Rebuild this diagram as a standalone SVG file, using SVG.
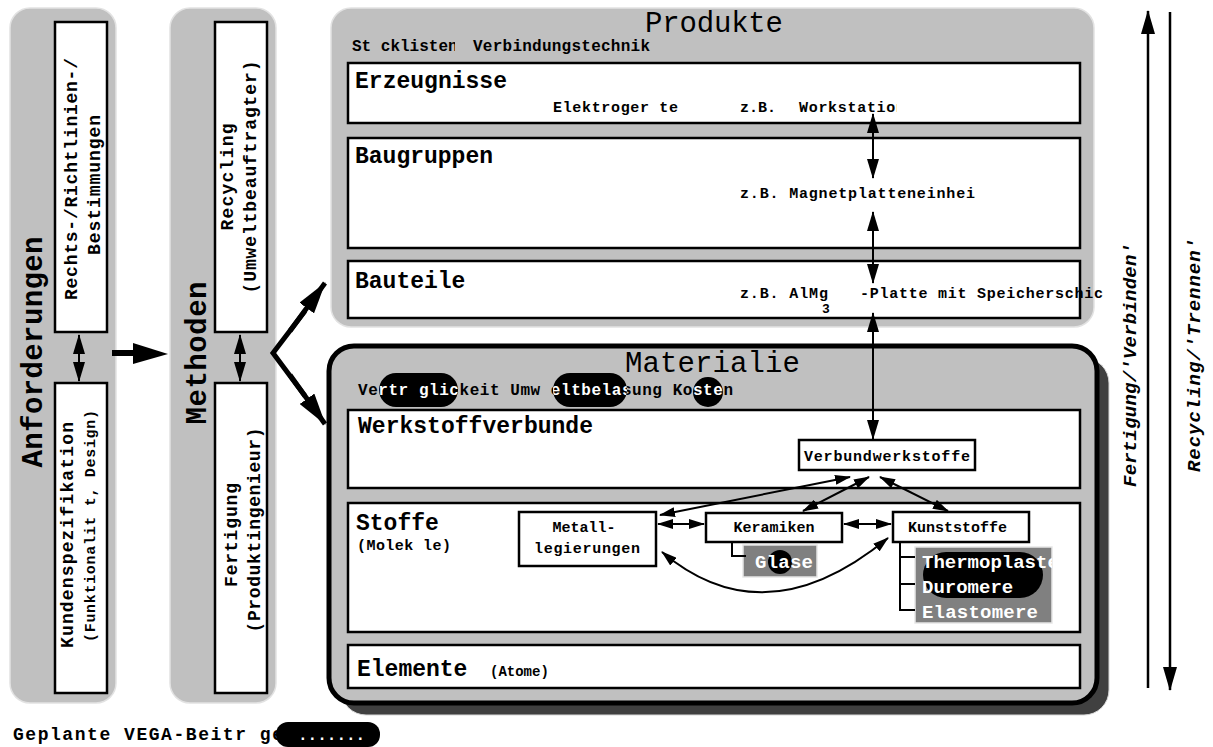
<svg xmlns="http://www.w3.org/2000/svg" width="1213" height="747" viewBox="0 0 1213 747">
<style>
.panel{fill:#c0c0c0;stroke:#e2e2e2;stroke-width:1.5}
.box{fill:#fff;stroke:#000;stroke-width:2.5}
.sbox{fill:#fff;stroke:#000;stroke-width:2.5}
.t{font-family:"Liberation Mono","Courier New",monospace;font-weight:bold;fill:#000}
.r{font-family:"Liberation Mono","Courier New",monospace;font-weight:normal;fill:#000}
.w{fill:#fff}
.it{font-style:italic}
.ln{fill:none;stroke:#000;stroke-width:2}
.thick{fill:none;stroke:#000;stroke-width:6}
.fork{fill:none;stroke:#000;stroke-width:5;stroke-linejoin:miter}
</style>
<defs>
<marker id="ah" markerUnits="userSpaceOnUse" markerWidth="20" markerHeight="12" refX="19" refY="6" orient="auto-start-reverse"><path d="M0,0 L20,6 L0,12 z" fill="#000"/></marker>
<marker id="as" markerUnits="userSpaceOnUse" markerWidth="16" markerHeight="10" refX="15" refY="5" orient="auto-start-reverse"><path d="M0,0 L16,5 L0,10 z" fill="#000"/></marker>
<marker id="af" markerUnits="userSpaceOnUse" markerWidth="32" markerHeight="18" refX="31" refY="9" orient="auto"><path d="M0,0 L32,9 L0,18 z" fill="#000"/></marker>
<marker id="ab" markerUnits="userSpaceOnUse" markerWidth="24" markerHeight="14" refX="23" refY="7" orient="auto-start-reverse"><path d="M0,0 L24,7 L0,14 z" fill="#000"/></marker>
<clipPath id="cSt"><rect x="340" y="30" width="115" height="30"/></clipPath>
<clipPath id="cWs"><rect x="790" y="95" width="107" height="25"/></clipPath>
<clipPath id="cKu"><rect x="893" y="512" width="117" height="30"/></clipPath>
<clipPath id="cTh"><rect x="915" y="547" width="137" height="76"/></clipPath>
<clipPath id="cPill"><rect x="379" y="373" width="79" height="34" rx="17"/><rect x="553" y="373" width="74" height="34" rx="17"/><circle cx="708" cy="392" r="15"/></clipPath>
</defs>

<g id="anforderungen">
<rect class="panel" x="10" y="8" width="106" height="695" rx="20"/>
<text class="t" font-size="29" text-anchor="middle" textLength="231" transform="translate(42,352) rotate(-90)">Anforderungen</text>
</g>
<g id="rechts">
<rect class="box" x="55" y="22" width="52" height="310"/>
<text class="t" font-size="18" text-anchor="middle" textLength="242" transform="translate(77,179) rotate(-90)">Rechts-/Richtlinien-/</text>
<text class="t" font-size="18" text-anchor="middle" textLength="140" transform="translate(100,185) rotate(-90)">Bestimmungen</text>
</g>
<g id="kunden">
<rect class="box" x="55" y="383" width="52" height="310"/>
<text class="t" font-size="18" text-anchor="middle" textLength="226" transform="translate(73,535) rotate(-90)">Kundenspezifikation</text>
<text class="t" font-size="15" text-anchor="middle" textLength="232" transform="translate(95,526) rotate(-90)">(Funktionalit t, Design)</text>
</g>
<g id="methoden">
<rect class="panel" x="170" y="8" width="106" height="695" rx="20"/>
<text class="t" font-size="29" text-anchor="middle" textLength="143" transform="translate(206,353) rotate(-90)">Methoden</text>
</g>
<g id="recycling">
<rect class="box" x="215" y="22" width="52" height="310"/>
<text class="t" font-size="18" text-anchor="middle" textLength="107" transform="translate(233,177) rotate(-90)">Recycling</text>
<text class="t" font-size="18" text-anchor="middle" textLength="233" transform="translate(256,177) rotate(-90)">(Umweltbeauftragter)</text>
</g>
<g id="fertigung">
<rect class="box" x="215" y="383" width="52" height="310"/>
<text class="t" font-size="18" text-anchor="middle" textLength="104" transform="translate(237,535) rotate(-90)">Fertigung</text>
<text class="t" font-size="18" text-anchor="middle" textLength="205" transform="translate(260,530) rotate(-90)">(Produktingenieur)</text>
</g>

<g id="produkte">
<rect class="panel" x="331" y="8" width="763" height="319" rx="20"/>
<text class="r" font-size="29" x="645" y="32" textLength="138">Produkte</text>
<text class="t" font-size="16" x="352" y="51" clip-path="url(#cSt)">St cklisten</text>
<text class="t" font-size="16" x="473" y="51" textLength="177">Verbindungstechnik</text>
</g>
<g id="erzeugnisse">
<rect class="box" x="348" y="63" width="732" height="60"/>
<text class="t" font-size="23" x="355" y="88" textLength="152">Erzeugnisse</text>
<text class="t" font-size="15" x="553" y="112" textLength="125">Elektroger te</text>
<text class="t" font-size="15" x="740" y="112">z.B.</text>
<text class="t" font-size="15" x="799" y="112" clip-path="url(#cWs)" textLength="106">Workstation</text>
</g>
<g id="baugruppen">
<rect class="box" x="348" y="138" width="732" height="110"/>
<text class="t" font-size="23" x="355" y="163">Baugruppen</text>
<text class="t" font-size="15" x="740" y="198" textLength="235">z.B. Magnetplatteneinhei</text>
</g>
<g id="bauteile">
<rect class="box" x="348" y="261" width="732" height="57"/>
<text class="t" font-size="23" x="355" y="288">Bauteile</text>
<text class="t" font-size="15" x="740" y="298" textLength="88">z.B. AlMg</text>
<text class="t" font-size="13" x="822" y="313">3</text>
<text class="t" font-size="15" x="860" y="298" textLength="243">-Platte mit Speicherschic</text>
</g>

<g id="materialien">
<rect x="341" y="358" width="768" height="357" rx="25" fill="#404040" stroke="#d8d8d8" stroke-width="1"/>
<rect x="329" y="346" width="768" height="357" rx="25" fill="#c0c0c0" stroke="#000" stroke-width="5"/>
<text class="r" font-size="29" x="625" y="372" textLength="175">Materialie</text>
<text class="t" font-size="16" x="358" y="395" textLength="375">Vertr glickeit Umw eltbelasung Kosten</text>
<rect x="379" y="373" width="79" height="34" rx="17"/>
<rect x="553" y="373" width="74" height="34" rx="17"/>
<circle cx="708" cy="392" r="15"/>
<text class="t w" font-size="16" x="358" y="395" textLength="375" clip-path="url(#cPill)">Vertr glickeit Umw eltbelasung Kosten</text>
</g>
<g id="werkstoffverbunde">
<rect class="box" x="348" y="410" width="732" height="78"/>
<text class="t" font-size="23" x="358" y="433" textLength="235">Werkstoffverbunde</text>
</g>
<g id="verbundwerkstoffe">
<rect class="sbox" x="799" y="440" width="176" height="30"/>
<text class="t" font-size="15" x="887" y="461" text-anchor="middle" textLength="166">Verbundwerkstoffe</text>
</g>
<g id="stoffe">
<rect class="box" x="348" y="503" width="732" height="129"/>
<text class="t" font-size="23" x="356" y="530">Stoffe</text>
<text class="t" font-size="15" x="357" y="550" textLength="94">(Molek le)</text>
</g>
<g id="metall">
<rect class="sbox" x="519" y="512" width="137" height="54"/>
<text class="t" font-size="15" x="584" y="532" text-anchor="middle">Metall-</text>
<text class="t" font-size="15" x="587" y="553" text-anchor="middle" textLength="106">legierungen</text>
</g>
<g id="keramiken">
<rect class="sbox" x="706" y="513" width="136" height="29"/>
<text class="t" font-size="15" x="774" y="532" text-anchor="middle">Keramiken</text>
</g>
<g id="glase">
<rect x="743" y="545" width="74" height="32" fill="#808080" stroke="#e6e6e6" stroke-width="1.5"/>
<circle cx="780" cy="562" r="12" fill="#000"/>
<text class="t w" font-size="19" x="755" y="568" textLength="58">Glase</text>
</g>
<g id="kunststoffe">
<rect class="sbox" x="893" y="512" width="136" height="30"/>
<text class="t" font-size="15" x="908" y="532" clip-path="url(#cKu)">Kunststoffe</text>
</g>
<g id="kunststoff-arten">
<rect x="915" y="547" width="137" height="76" fill="#808080" stroke="#e6e6e6" stroke-width="1.5"/>
<rect x="923" y="552" width="120" height="46" rx="23" fill="#000"/>
<text class="t w" font-size="19" x="922" y="568" clip-path="url(#cTh)">Thermoplaste</text>
<text class="t w" font-size="19" x="922" y="593">Duromere</text>
<text class="t w" font-size="19" x="922" y="618" textLength="116">Elastomere</text>
</g>
<g id="elemente">
<rect class="box" x="348" y="645" width="732" height="43"/>
<text class="t" font-size="23" x="357" y="676">Elemente</text>
<text class="t" font-size="14" x="490" y="676">(Atome)</text>
</g>

<g id="richtung">
<text class="t it" font-size="19" text-anchor="middle" textLength="244" transform="translate(1136,365) rotate(-90)">Fertigung/'Verbinden'</text>
<text class="t it" font-size="19" text-anchor="middle" textLength="234" transform="translate(1200,355) rotate(-90)">Recycling/'Trennen'</text>
</g>

<g id="legende">
<text class="t" font-size="18" x="13" y="740" textLength="270">Geplante VEGA-Beitr ge</text>
<rect x="276" y="722" width="104" height="25" rx="12" fill="#000"/>
<text class="t w" font-size="16" x="298" y="740">.......</text>
</g>

<g id="connectors">
<line class="ln" x1="79" y1="335" x2="79" y2="381" marker-start="url(#ah)" marker-end="url(#ah)"/>
<line class="ln" x1="240" y1="335" x2="240" y2="381" marker-start="url(#ah)" marker-end="url(#ah)"/>
<line class="thick" x1="112" y1="353" x2="140" y2="353"/>
<path d="M133,343 L168,354 L133,364 z" fill="#000"/>
<polyline class="fork" points="305,311 273,353 305,396"/>
<line x1="290" y1="331" x2="325" y2="283" stroke="#000" stroke-width="5" marker-end="url(#af)"/>
<line x1="290" y1="375" x2="325" y2="424" stroke="#000" stroke-width="5" marker-end="url(#af)"/>
<line class="ln" x1="873" y1="114" x2="873" y2="178" marker-start="url(#ah)" marker-end="url(#ah)"/>
<line class="ln" x1="873" y1="212" x2="873" y2="283" marker-start="url(#ah)" marker-end="url(#ah)"/>
<line class="ln" x1="873" y1="313" x2="873" y2="439" marker-start="url(#ah)" marker-end="url(#ah)"/>
<line class="ln" x1="850" y1="477" x2="660" y2="515" marker-start="url(#as)" marker-end="url(#as)"/>
<line class="ln" x1="869" y1="477" x2="803" y2="511" marker-start="url(#as)" marker-end="url(#as)"/>
<line class="ln" x1="880" y1="477" x2="948" y2="511" marker-start="url(#as)" marker-end="url(#as)"/>
<line class="ln" x1="658" y1="524" x2="704" y2="524" marker-start="url(#as)" marker-end="url(#as)"/>
<line class="ln" x1="844" y1="524" x2="891" y2="524" marker-start="url(#as)" marker-end="url(#as)"/>
<path class="ln" d="M662,552 Q765,639 888,538" marker-start="url(#as)" marker-end="url(#as)"/>
<polyline class="ln" points="732,542 732,556 746,556" stroke-width="2.5"/>
<polyline class="ln" points="900,542 900,610 915,610" stroke-width="2.5"/>
<line class="ln" x1="900" y1="557" x2="915" y2="557" stroke-width="2.5"/>
<line class="ln" x1="900" y1="584" x2="915" y2="584" stroke-width="2.5"/>
<line x1="1148" y1="688" x2="1148" y2="11" stroke="#000" stroke-width="2.5" marker-end="url(#ab)"/>
<line x1="1170" y1="12" x2="1170" y2="690" stroke="#000" stroke-width="2.5" marker-end="url(#ab)"/>
</g>
</svg>
